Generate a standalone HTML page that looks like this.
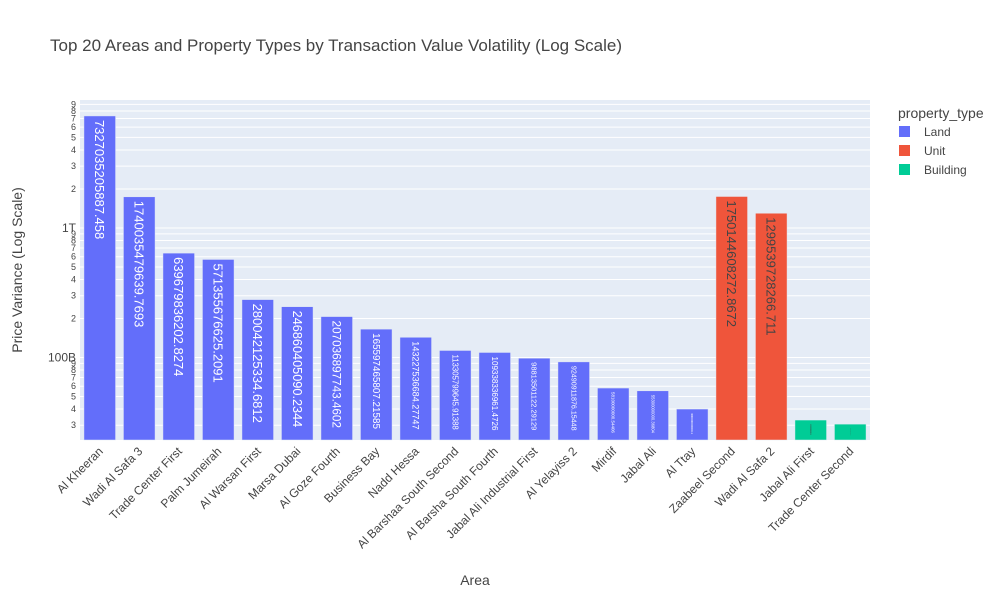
<!DOCTYPE html>
<html><head><meta charset="utf-8"><style>
body{margin:0;background:#fff}
svg text{font-family:"Liberation Sans",Arial,sans-serif}
</style></head><body>
<svg id="c" width="1000" height="600" xmlns="http://www.w3.org/2000/svg">
<rect width="1000" height="600" fill="#fff"/>
<text x="50" y="51" font-size="17" fill="#444">Top 20 Areas and Property Types by Transaction Value Volatility (Log Scale)</text>
<rect x="80" y="100" width="790" height="340" fill="#e5ecf6"/>
<g id="grid"></g><g id="bars"></g><g id="xt"></g><g id="yt"></g>
<text x="475" y="585" font-size="14" fill="#444" text-anchor="middle">Area</text>
<text transform="translate(22,270) rotate(-90)" font-size="14" fill="#444" text-anchor="middle">Price Variance (Log Scale)</text>
<g>
<text x="898" y="118" font-size="14" fill="#444">property_type</text>
<g><rect x="899" y="126" width="11" height="11" fill="#636efa"/><text x="924" y="136" font-size="12" fill="#444">Land</text></g>
<g><rect x="899" y="145" width="11" height="11" fill="#ef553b"/><text x="924" y="155" font-size="12" fill="#444">Unit</text></g>
<g><rect x="899" y="164" width="11" height="11" fill="#00cc96"/><text x="924" y="174" font-size="12" fill="#444">Building</text></g>
</g>
</svg>
<script>
const categories=["Al Kheeran","Wadi Al Safa 3","Trade Center First","Palm Jumeirah","Al Warsan First","Marsa Dubai","Al Goze Fourth","Business Bay","Nadd Hessa","Al Barshaa South Second","Al Barsha South Fourth","Jabal Ali Industrial First","Al Yelayiss 2","Mirdif","Jabal Ali","Al Ttay","Zaabeel Second","Wadi Al Safa 2","Jabal Ali First","Trade Center Second"];
const values=[7327035205887.458,1740035479639.7693,639679836202.8274,571355676625.2091,280042125334.6812,246860405090.2344,207036897743.4602,165597465807.21585,143227536684.27747,113305799645.91388,109338336961.4726,98813501122.29129,92490911876.15448,58100000000,55300000000,40000000000,1750144608272.8672,1299539728266.711,32900000000,30600000000];
const labels=["7327035205887.458","1740035479639.7693","639679836202.8274","571355676625.2091","280042125334.6812","246860405090.2344","207036897743.4602","165597465807.21585","143227536684.27747","113305799645.91388","109338336961.4726","98813501122.29129","92490911876.15448","58100000000.54406","55300000000.36804","40000000000.1","1750144608272.8672","1299539728266.711","32900000000.5","30600000000.5"];
const types=["Land","Land","Land","Land","Land","Land","Land","Land","Land","Land","Land","Land","Land","Land","Land","Land","Unit","Unit","Building","Building"];
const colors={Land:"#636efa",Unit:"#ef553b",Building:"#00cc96"};
const x0=80,pw=790,y0=100,ph=340,lmin=10.363,lmax=12.988;
const y=v=>y0+ph-(Math.log10(v)-lmin)/(lmax-lmin)*ph;
const NS="http://www.w3.org/2000/svg";
function mk(t,a,p){const e=document.createElementNS(NS,t);for(const k in a)e.setAttribute(k,a[k]);p.appendChild(e);return e;}
const G=document.getElementById('grid'),B=document.getElementById('bars'),XT=document.getElementById('xt'),YT=document.getElementById('yt');
for(let d=10;d<=12;d++)for(let m=1;m<=9;m++){const v=m*Math.pow(10,d);const l=Math.log10(v);if(l<lmin||l>lmax)continue;const yy=y(v);
const g=mk('line',{x1:x0,x2:x0+pw,y1:yy,y2:yy,stroke:'#fff','stroke-width':m==1?1:1},G);


const lbl=m==1?(d==12?'1T':d==11?'100B':'10B'):String(m);
const t=mk('text',{x:m==1?76:76,y:yy+(m==1?4:3),'font-size':m==1?12:9,fill:'#444','text-anchor':'end'},YT);t.textContent=lbl;

}
const step=pw/categories.length,bw=step*0.8;
categories.forEach((c,i)=>{const cx=x0+step*(i+0.5),top=y(values[i]),h=y0+ph-top;
const r=mk('rect',{x:cx-bw/2,y:top,width:bw,height:h,fill:colors[types[i]],stroke:'#e5ecf6','stroke-width':0.5},B);


const s=labels[i];let fs=Math.min(13,(h-8)/(s.length*0.58));if(fs<1)fs=1;
const t=mk('text',{transform:`translate(${cx-fs*0.35},${top+4}) rotate(90)`,'font-size':fs.toFixed(2),fill:types[i]=='Land'?'#fff':'#444'},B);t.textContent=s;


const xl=mk('text',{transform:`translate(${cx+4},${452}) rotate(-45)`,'font-size':12,fill:'#444','text-anchor':'end'},XT);xl.textContent=c;

});
</script>
</body></html>
